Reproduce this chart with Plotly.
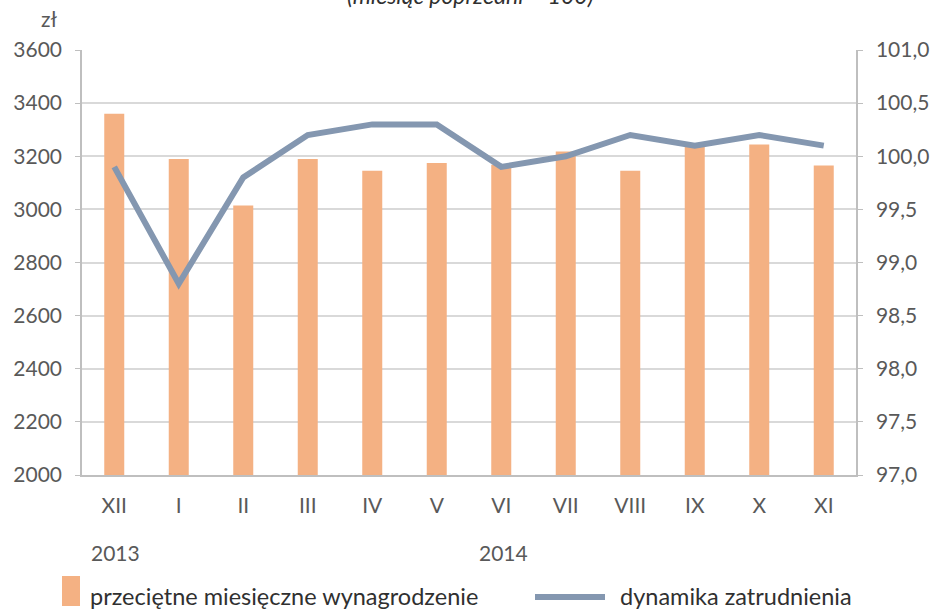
import plotly.graph_objects as go

months = ["XII", "I", "II", "III", "IV", "V", "VI", "VII", "VIII", "IX", "X", "XI"]
wages = [3360, 3190, 3015, 3190, 3145, 3175, 3168, 3218, 3145, 3235, 3244, 3165]
employment = [99.9, 98.8, 99.8, 100.2, 100.3, 100.3, 99.9, 100.0, 100.2, 100.1, 100.2, 100.1]
left_ticks = [2000, 2200, 2400, 2600, 2800, 3000, 3200, 3400, 3600]
right_ticks = [97.0, 97.5, 98.0, 98.5, 99.0, 99.5, 100.0, 100.5, 101.0]
years = ["2013", "2014"]

BAR = "#F4B183"
LINE = "#8497B0"
TXT = "#595959"
DARK = "#303030"
FONT = "Lato"
W, H = 934, 611
L, R, T, B = 82, 78, 50, 136
PW, PH = W - L - R, H - T - B


def px(x):
    return (x - L) / PW


def py(y):
    return (H - B - y) / PH


fig = go.Figure()
fig.add_trace(go.Bar(x=months, y=wages, marker=dict(color=BAR, line=dict(width=0)),
                     name="przeciętne miesięczne wynagrodzenie", yaxis="y"))
fig.add_trace(go.Scatter(x=months, y=employment, mode="lines",
                         line=dict(color=LINE, width=6), name="dynamika zatrudnienia", yaxis="y2"))

fig.update_layout(
    width=W, height=H,
    margin=dict(l=L, r=R, t=T, b=B),
    paper_bgcolor="white", plot_bgcolor="white",
    showlegend=False, bargap=0.69,
    separators=", ",
    font=dict(family=FONT, size=21, color=TXT),
    xaxis=dict(showgrid=False, showline=True, linecolor="#bfbfbf", linewidth=1.5,
               ticks="", tickfont=dict(size=21, color=TXT), ticklabelstandoff=11,
               automargin=False),
    yaxis=dict(range=[2000, 3600], tickvals=left_ticks, tickformat="d",
               showgrid=True, gridcolor="#d9d9d9", gridwidth=1.5,
               showline=True, linecolor="#bfbfbf", linewidth=1.5,
               ticks="outside", ticklen=5, tickcolor="#bfbfbf", ticklabelstandoff=9,
               tickfont=dict(size=21, color=TXT), zeroline=False, automargin=False),
    yaxis2=dict(range=[97, 101], tickvals=right_ticks, tickformat=".1f",
                overlaying="y", side="right", showgrid=False,
                showline=True, linecolor="#bfbfbf", linewidth=1.5,
                ticks="outside", ticklen=5, tickcolor="#bfbfbf", ticklabelstandoff=9,
                tickfont=dict(size=21, color=TXT), zeroline=False, automargin=False),
)

annotations = [
    dict(text="<i>(miesiąc poprzedni = 100)</i>", xref="paper", yref="paper",
         x=px(470), y=py(11), yanchor="bottom", showarrow=False,
         font=dict(size=23, color=DARK)),
    dict(text="zł", xref="paper", yref="paper", x=px(39), y=py(18), yanchor="middle",
         showarrow=False, font=dict(size=21, color=TXT)),
    dict(text=years[0], xref="paper", yref="paper", x=px(89), xanchor="left",
         y=py(552), yanchor="middle", showarrow=False, font=dict(size=21, color=TXT)),
    dict(text=years[1], xref="paper", yref="paper", x=px(477), xanchor="left",
         y=py(552), yanchor="middle", showarrow=False, font=dict(size=21, color=TXT)),
    dict(text="przeciętne miesięczne wynagrodzenie", xref="paper", yref="paper",
         x=px(88), xanchor="left", y=py(596), yanchor="middle", showarrow=False,
         font=dict(size=23.5, color=DARK)),
    dict(text="dynamika zatrudnienia", xref="paper", yref="paper",
         x=px(618), xanchor="left", y=py(596), yanchor="middle", showarrow=False,
         font=dict(size=23.5, color=DARK)),
]
fig.update_layout(annotations=annotations)

# legend symbols
fig.add_shape(type="rect", xref="paper", yref="paper",
              x0=px(62), x1=px(80), y0=py(606), y1=py(576),
              fillcolor=BAR, line=dict(width=0))
fig.add_shape(type="line", xref="paper", yref="paper",
              x0=px(535), x1=px(605), y0=py(597), y1=py(597),
              line=dict(color=LINE, width=6))

fig.write_html("out.html", config={"displayModeBar": False},
               post_script="document.body.style.margin='0px';")
